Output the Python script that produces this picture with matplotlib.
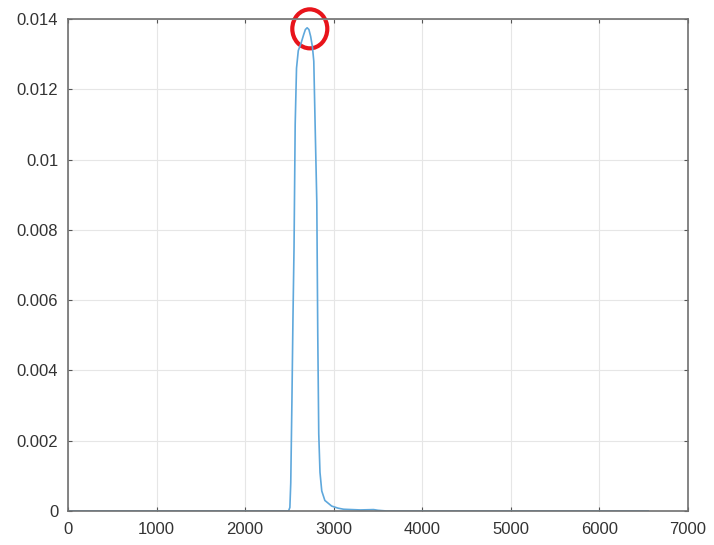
import matplotlib
matplotlib.use("Agg")
import matplotlib.pyplot as plt
from matplotlib.patches import Ellipse

# data
x_vals = [0, 1000, 2000, 2490, 2505, 2515, 2528, 2540, 2552, 2565, 2580, 2600, 2630,
          2660, 2680, 2700, 2720, 2740, 2760, 2775, 2790, 2809, 2820, 2831, 2845,
          2865, 2900, 2977, 3050, 3112, 3300, 3450, 3500, 3600, 5000, 6550]
y_vals = [0, 0, 0, 0, 0.0001, 0.0008, 0.0031, 0.0055, 0.0075, 0.0110, 0.0126, 0.0131,
          0.0133, 0.01355, 0.0137, 0.01375, 0.0137, 0.0135, 0.0132, 0.0128, 0.0110,
          0.0088, 0.0050, 0.0022, 0.0011, 0.00057, 0.0003, 0.00014, 0.00008,
          0.00005, 0.00003, 0.00004, 0.00002, 0, 0, 0]
x_ticks = [0, 1000, 2000, 3000, 4000, 5000, 6000, 7000]
y_ticks = [0, 0.002, 0.004, 0.006, 0.008, 0.01, 0.012, 0.014]
y_tick_labels = ["0", "0.002", "0.004", "0.006", "0.008", "0.01", "0.012", "0.014"]
peak_x, peak_y = 2730, 0.01372

plt.rcParams['font.family'] = ['Liberation Sans', 'DejaVu Sans']
fig = plt.figure(figsize=(7.14, 5.45), dpi=100)
ax = fig.add_axes([68/714, 1-511/545, 620/714, 492/545])
ax.plot(x_vals, y_vals, color="#5fa8dc", linewidth=1.2)
ax.set_xlim(0, 7000)
ax.set_ylim(0, 0.014)
ax.set_xticks(x_ticks)
ax.set_yticks(y_ticks)
ax.set_yticklabels(y_tick_labels)
ax.grid(True, color="#e6e6e6", linewidth=0.8)
ax.tick_params(direction="in", length=3, colors="#555555", labelsize=12,
               top=True, right=True, labelcolor="#333333")
ax.tick_params(axis="x", pad=8)
ax.tick_params(axis="y", pad=7)
for s in ax.spines.values():
    s.set_color("#707070")
    s.set_linewidth(1.2)

# red circle annotation around peak (in pixel size)
circ = Ellipse((peak_x, peak_y), width=35*7000/620, height=39*0.014/492,
               fill=False, edgecolor="#e8141b", linewidth=3, clip_on=False)
ax.add_patch(circ)

fig.savefig("out.png", dpi=100)
